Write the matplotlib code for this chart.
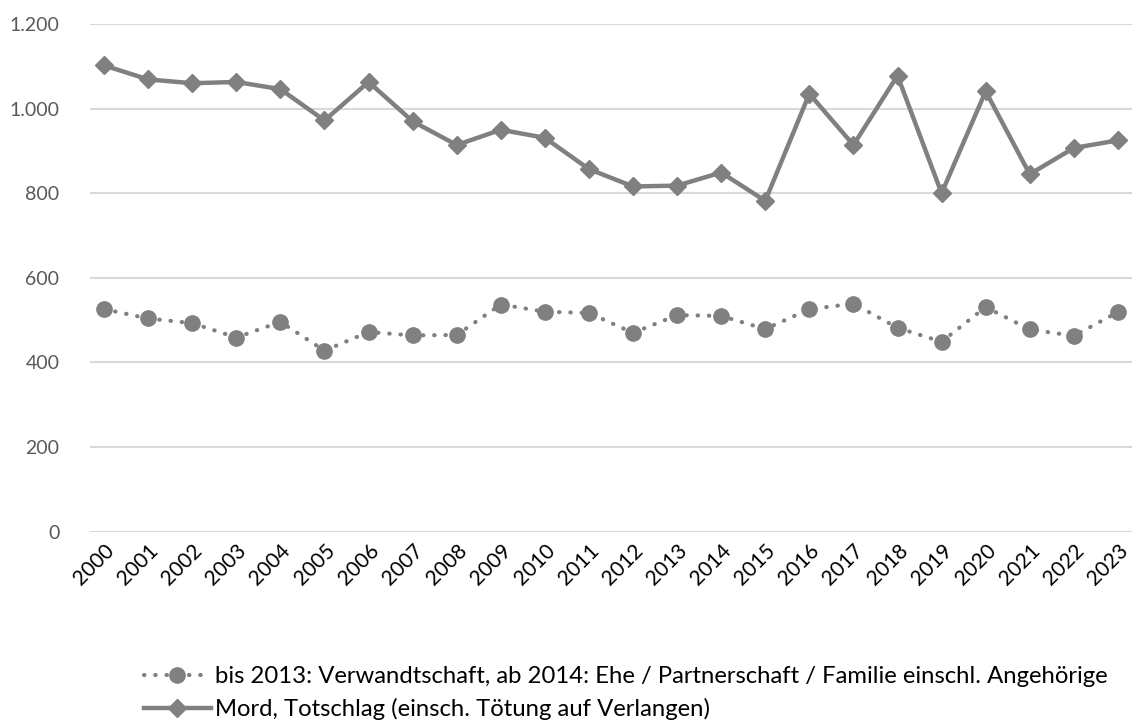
import matplotlib.pyplot as plt
from matplotlib.ticker import FuncFormatter

plt.rcParams['font.family'] = ['Lato', 'DejaVu Sans']

jahre = [str(j) for j in range(2000, 2024)]
familie = [526, 504, 493, 459, 496, 428, 472, 464, 465, 537, 520, 517,
           470, 512, 510, 479, 526, 539, 482, 449, 531, 478, 463, 519]
mord = [1102, 1069, 1060, 1063, 1046, 972, 1063, 970, 914, 950, 931, 857,
        816, 818, 849, 782, 1035, 914, 1078, 800, 1041, 845, 907, 925]

label_familie = 'bis 2013: Verwandtschaft, ab 2014: Ehe / Partnerschaft / Familie einschl. Angehörige'
label_mord = 'Mord, Totschlag (einsch. Tötung auf Verlangen)'

grau = '#808080'
fig = plt.figure(figsize=(11.32, 7.27), dpi=100)
ax = fig.add_axes([0.0795, 0.2686, 0.9205, 0.6984])

x = range(len(jahre))
ax.plot(x, familie, color=grau, linewidth=3, linestyle=(0, (0.1, 2.6)),
        dash_capstyle='round', marker='o', markersize=11, label=label_familie)
ax.plot(x, mord, color=grau, linewidth=3.2, marker='D', markersize=9,
        label=label_mord)

ax.set_xlim(-0.32, 23.32)
ax.set_ylim(0, 1200)
ax.set_yticks(range(0, 1201, 200))
ax.yaxis.set_major_formatter(FuncFormatter(lambda v, p: f'{int(v):,}'.replace(',', '.')))
ax.set_xticks(list(x))
ax.set_xticklabels(jahre, rotation=45, ha='right', rotation_mode='anchor', fontsize=15)
ax.tick_params(axis='y', colors='#595959', labelsize=14, length=0, pad=22)
ax.tick_params(axis='x', colors='black', length=0, pad=6)
ax.grid(axis='y', color='#d9d9d9', linewidth=1.5)
ax.set_axisbelow(True)
for s in ax.spines.values():
    s.set_visible(False)

fig.legend(loc='lower left', bbox_to_anchor=(0.108, -0.02), frameon=False,
           fontsize=17.2, handlelength=2.8, labelspacing=0.45, handletextpad=0.2)

fig.savefig('out.png', dpi=100)
